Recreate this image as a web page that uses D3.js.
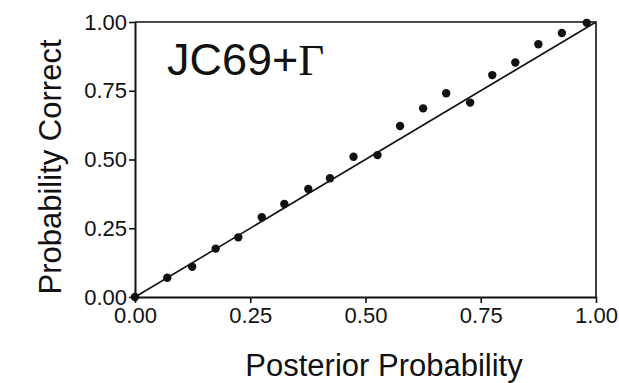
<!DOCTYPE html>
<html lang="en">
<head>
    <meta charset="UTF-8">
    <title>JC69+Gamma calibration</title>
    <script src="https://d3js.org/d3.v7.min.js"></script>
    <style>
        body {
            margin: 0;
            background-color: #fff;
        }
        svg text {
            font-family: 'Liberation Sans', Arial, sans-serif;
            fill: #111;
        }
        .axis text {
            font-size: 22px;
        }
        .axis path, .axis line {
            stroke: #111;
        }
        .axis-label {
            font-size: 31px;
        }
    </style>
</head>
<body>
    <svg id="chart"></svg>

    <script>
        // Posterior probability bins vs. observed probability correct
        const posterior = [0.00, 0.07, 0.124, 0.175, 0.224, 0.275, 0.324, 0.376, 0.423, 0.474,
                           0.526, 0.575, 0.625, 0.675, 0.727, 0.775, 0.825, 0.875, 0.926, 0.98];
        const correct   = [0.00, 0.07, 0.11, 0.176, 0.217, 0.29, 0.338, 0.393, 0.432, 0.51,
                           0.516, 0.622, 0.686, 0.741, 0.707, 0.807, 0.853, 0.919, 0.96, 0.997];
        const tickValues = [0, 0.25, 0.5, 0.75, 1];
        const modelLabel = "JC69+";

        const W = 619, H = 383;
        const margin = { top: 22, right: 23, bottom: 86, left: 135 };
        const width = W - margin.left - margin.right;
        const height = H - margin.top - margin.bottom;

        const root = d3.select("#chart")
            .attr("width", W)
            .attr("height", H);

        const svg = root.append("g")
            .attr("transform", `translate(${margin.left},${margin.top})`);

        const x = d3.scaleLinear().domain([0, 1]).range([0, width]);
        const y = d3.scaleLinear().domain([0, 1]).range([height, 0]);

        // frame (top and right sides)
        svg.append("path")
            .attr("d", `M0,0H${width}V${height}`)
            .attr("fill", "none")
            .attr("stroke", "#111")
            .attr("stroke-width", 1.6);

        // axes
        const xAxis = svg.append("g")
            .attr("class", "axis")
            .attr("transform", `translate(0,${height})`)
            .call(d3.axisBottom(x).tickValues(tickValues).tickFormat(d3.format(".2f")).tickSize(6).tickSizeOuter(0).tickPadding(4));

        const yAxis = svg.append("g")
            .attr("class", "axis")
            .call(d3.axisLeft(y).tickValues(tickValues).tickFormat(d3.format(".2f")).tickSize(6).tickSizeOuter(0).tickPadding(2));

        svg.selectAll(".axis path").attr("stroke-width", 2);
        svg.selectAll(".axis line").attr("stroke-width", 1.6);
        svg.selectAll(".axis text").attr("fill", "#111");

        // identity line
        svg.append("line")
            .attr("x1", x(0)).attr("y1", y(0))
            .attr("x2", x(1)).attr("y2", y(1))
            .attr("stroke", "#111")
            .attr("stroke-width", 1.6);

        // points
        svg.selectAll(".dot")
            .data(posterior.map((p, i) => ({ p, c: correct[i] })))
            .enter()
            .append("circle")
            .attr("class", "dot")
            .attr("cx", d => x(d.p))
            .attr("cy", d => y(d.c))
            .attr("r", 4.2)
            .attr("fill", "#111");

        // model label
        const lab = svg.append("text")
            .attr("x", 32)
            .attr("y", 53)
            .style("font-size", "45px");
        lab.append("tspan").text(modelLabel);
        lab.append("tspan")
            .style("font-family", "'Liberation Serif', 'Times New Roman', serif")
            .text("\u0393");

        // axis titles
        root.append("text")
            .attr("class", "axis-label")
            .attr("x", 384)
            .attr("y", 376)
            .attr("text-anchor", "middle")
            .text("Posterior Probability");

        root.append("text")
            .attr("class", "axis-label")
            .attr("transform", "translate(61,167) rotate(-90)")
            .attr("text-anchor", "middle")
            .text("Probability Correct");
    </script>
</body>
</html>
